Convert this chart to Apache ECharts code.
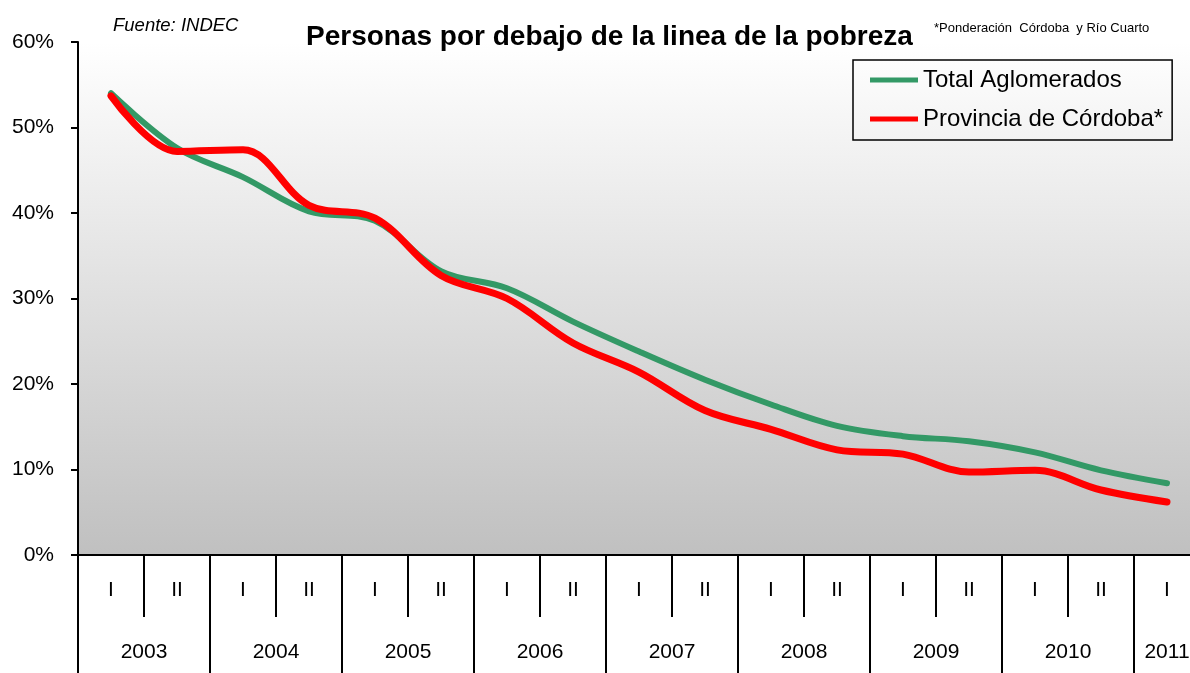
<!DOCTYPE html>
<html>
<head>
    <meta charset="UTF-8">
    <title>Personas por debajo de la linea de la pobreza</title>
    <script src="https://cdn.jsdelivr.net/npm/echarts@6/dist/echarts.min.js"></script>
    <style>
        body { margin: 0; background: #fff; overflow: hidden; }
        /* el grafico original esta recortado a la derecha */
        #main { width: 1200px; height: 673px; }
    </style>
</head>
<body>
<div id="main"></div>
<script>
    // semestres y años
    var semestres = ['I','II','I','II','I','II','I','II','I','II','I','II','I','II','I','II','I'];
    var anios = ['2003','2004','2005','2006','2007','2008','2009','2010','2011'];
    // posicion (en semestres) de cada etiqueta de año
    var posAnios = [1, 3, 5, 7, 9, 11, 13, 15, 16.5];
    var limitesAnios = [0, 2, 4, 6, 8, 10, 12, 14, 16];

    // % de personas bajo la linea de pobreza
    var totalAglomerados = [54.0, 47.6, 44.2, 40.2, 39.1, 33.2, 31.2, 27.3, 23.8, 20.5, 17.6, 15.1, 13.9, 13.3, 12.0, 9.9, 8.4];
    var provCordoba = [53.7, 47.2, 47.4, 40.9, 39.4, 32.7, 30.0, 24.8, 21.4, 16.9, 14.7, 12.3, 11.8, 9.7, 9.9, 7.6, 6.2];

    var fuente = 'Liberation Sans, Arial, sans-serif';
    var myChart = echarts.init(document.getElementById('main'));

    var option = {
        animation: false,
        backgroundColor: '#ffffff',
        textStyle: { fontFamily: fuente, color: '#000' },
        title: [
            {
                text: 'Personas por debajo de la linea de la pobreza',
                left: 301, top: 18,
                textStyle: { fontSize: 28, fontWeight: 'bold', color: '#000', fontFamily: fuente }
            },
            {
                text: 'Fuente: INDEC',
                left: 108, top: 11,
                textStyle: { fontSize: 18.5, fontStyle: 'italic', fontWeight: 'normal', color: '#000', fontFamily: fuente }
            },
            {
                text: '*Ponderación  Córdoba  y Río Cuarto',
                left: 929, top: 17,
                textStyle: { fontSize: 13, fontWeight: 'normal', color: '#000', fontFamily: fuente }
            }
        ],
        legend: {
            left: 853, top: 60,
            orient: 'vertical',
            icon: 'rect',
            itemWidth: 48, itemHeight: 5,
            itemGap: 11,
            padding: [6, 9, 7, 17],
            borderColor: '#000', borderWidth: 1.5,
            textStyle: { fontSize: 24, lineHeight: 28, color: '#000', fontFamily: fuente },
            data: ['Total Aglomerados', 'Provincia de Córdoba*']
        },
        grid: {
            left: 78, top: 42, width: 1122, bottom: 118,
            show: true,
            borderWidth: 0,
            backgroundColor: new echarts.graphic.LinearGradient(0, 0, 0, 1, [
                { offset: 0, color: '#ffffff' },
                { offset: 1, color: '#c0c0c0' }
            ])
        },
        xAxis: [
            {
                type: 'category',
                data: semestres,
                boundaryGap: true,
                axisLine: { lineStyle: { color: '#000', width: 2 } },
                axisTick: { show: true, interval: 0, length: 62, lineStyle: { color: '#000', width: 2 } },
                axisLabel: { interval: 0, margin: 25, fontSize: 21, color: '#000' }
            },
            {
                type: 'value',
                min: 0, max: 17,
                position: 'bottom',
                axisLine: { show: false },
                splitLine: { show: false },
                axisTick: { show: true, customValues: limitesAnios, length: 118, lineStyle: { color: '#000', width: 2 } },
                axisLabel: {
                    customValues: posAnios,
                    margin: 87, fontSize: 21, color: '#000',
                    formatter: function (v) {
                        var i = posAnios.indexOf(v);
                        return i >= 0 ? anios[i] : '';
                    }
                }
            }
        ],
        yAxis: {
            type: 'value',
            min: 0, max: 60, interval: 10,
            axisLine: { show: true, lineStyle: { color: '#000', width: 2 } },
            axisTick: { show: true, length: 7, lineStyle: { color: '#000', width: 2 } },
            splitLine: { show: false },
            axisLabel: { formatter: '{value}%', fontSize: 21, color: '#000', margin: 24 }
        },
        series: [
            {
                name: 'Total Aglomerados',
                type: 'line',
                smooth: 0.35,
                symbol: 'none',
                itemStyle: { color: '#339966' },
                lineStyle: { color: '#339966', width: 6, cap: 'round' },
                data: totalAglomerados
            },
            {
                name: 'Provincia de Córdoba*',
                type: 'line',
                smooth: 0.35,
                symbol: 'none',
                itemStyle: { color: '#ff0000' },
                lineStyle: { color: '#ff0000', width: 7, cap: 'round' },
                data: provCordoba
            }
        ]
    };

    myChart.setOption(option);
</script>
</body>
</html>
